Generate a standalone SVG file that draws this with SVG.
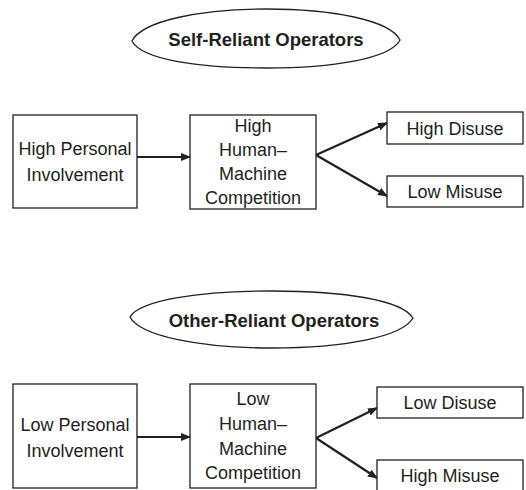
<svg xmlns="http://www.w3.org/2000/svg" width="526" height="490" viewBox="0 0 526 490">
<defs>
<marker id="ah" markerWidth="10" markerHeight="8" refX="9" refY="4" orient="auto" markerUnits="userSpaceOnUse"><path d="M0,0 L10,4 L0,8 Z" fill="#231f20"/></marker>
<style>
.box{fill:#fff;stroke:#231f20;stroke-width:1.3}
.el{fill:#fff;stroke:#231f20;stroke-width:1.3}
.t{font-family:"Liberation Sans",Arial,sans-serif;font-size:18px;fill:#231f20;text-anchor:middle}
.tb{font-weight:bold;font-size:18.5px}
.c{stroke:#231f20;stroke-width:2.2;fill:none;marker-end:url(#ah)}
</style>
</defs>
<rect width="526" height="490" fill="#fff"/>
<g id="connectors">
<path class="c" d="M137,157 L190,157"/>
<path class="c" d="M316,155 L387,123"/>
<path class="c" d="M316,155 L387,196"/>
<path class="c" d="M137,437 L190,437"/>
<path class="c" d="M316,438 L377,408"/>
<path class="c" d="M316,438 L377,478"/>
</g>
<g id="self-reliant">
<path class="el" d="M132,41 C142,21 200,9 266,9 C332,9 390,20 400,40 C390,59 332,68 266,68 C200,68 142,60 132,41 Z"/>
<text class="t tb" x="266" y="46">Self-Reliant Operators</text>
</g>
<g id="high-personal">
<rect class="box" x="13" y="115" width="124" height="93"/>
<text class="t" x="75" y="155">High Personal</text>
<text class="t" x="75" y="181">Involvement</text>
</g>
<g id="high-competition">
<rect class="box" x="190" y="115" width="126" height="94"/>
<text class="t" x="253" y="132">High</text>
<text class="t" x="253" y="156">Human–</text>
<text class="t" x="253" y="180">Machine</text>
<text class="t" x="253" y="204">Competition</text>
</g>
<g id="high-disuse">
<rect class="box" x="387" y="112" width="136" height="32"/>
<text class="t" x="455" y="135">High Disuse</text>
</g>
<g id="low-misuse">
<rect class="box" x="387" y="176" width="136" height="31"/>
<text class="t" x="455" y="198">Low Misuse</text>
</g>
<g id="other-reliant">
<path class="el" d="M130,317 C140,300 200,291 272,291 C344,291 402,300 413,318 C402,337 344,348 272,348 C200,348 140,336 130,317 Z"/>
<text class="t tb" x="274" y="327">Other-Reliant Operators</text>
</g>
<g id="low-personal">
<rect class="box" x="13" y="384" width="124" height="104"/>
<text class="t" x="75" y="431">Low Personal</text>
<text class="t" x="75" y="457">Involvement</text>
</g>
<g id="low-competition">
<rect class="box" x="190" y="384" width="126" height="104"/>
<text class="t" x="253" y="405">Low</text>
<text class="t" x="253" y="430">Human–</text>
<text class="t" x="253" y="455">Machine</text>
<text class="t" x="253" y="479">Competition</text>
</g>
<g id="low-disuse">
<rect class="box" x="377" y="387" width="146" height="31"/>
<text class="t" x="450" y="409">Low Disuse</text>
</g>
<g id="high-misuse">
<rect class="box" x="377" y="460" width="146" height="36"/>
<text class="t" x="450" y="482">High Misuse</text>
</g>
</svg>
